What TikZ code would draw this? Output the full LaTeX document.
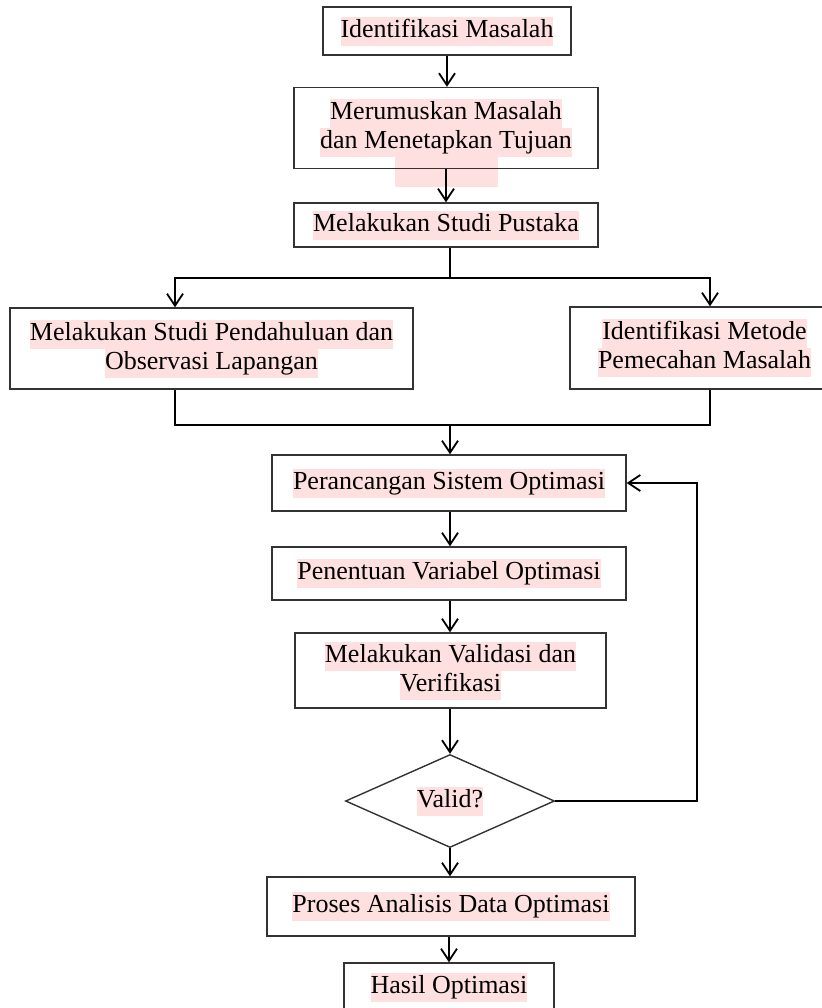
\documentclass[tikz,border=0pt]{standalone}
\usepackage{fontspec}
\setmainfont{Liberation Serif}
\usetikzlibrary{positioning, arrows.meta, shapes.geometric}
\definecolor{hlpink}{RGB}{255,224,224}
\newcommand{\hl}[1]{{\setlength{\fboxsep}{0pt}\colorbox{hlpink}{\rule[-4.25pt]{0pt}{14.5pt}#1}}}
\newcommand{\boxfont}{\fontsize{13}{14.5}\selectfont\setlength{\lineskiplimit}{0pt}\setlength{\lineskip}{0pt}}

\begin{document}
\begin{tikzpicture}[x=0.5pt, y=-0.5pt, line width=0.7pt,
  box/.style={draw=black!80, inner sep=0pt, align=center, font=\boxfont},
  dec/.style={box, diamond, aspect=2.2},
  arr/.style={draw=black, line width=0.9pt, -{Straight Barb[length=6pt,width=8pt]}}]
  \useasboundingbox (0,0) rectangle (822,1008);
  \clip (0,0) rectangle (822,1008);

  \fill[hlpink] (395,157) rectangle (498,187);

  \node[box, minimum width=124pt, minimum height=24pt] (idm) at (447,31) {\hl{Identifikasi Masalah}};
  \node[box, minimum width=152pt, minimum height=40.5pt] (rum) at (446,128) {\hl{Merumuskan Masalah}\\\hl{dan Menetapkan Tujuan}};
  \node[box, minimum width=152pt, minimum height=22pt] (pus) at (446,225) {\hl{Melakukan Studi Pustaka}};
  \node[box, minimum width=201.5pt, minimum height=40.5pt] (pen) at (211.5,348.5) {\hl{Melakukan Studi Pendahuluan dan}\\\hl{Observasi Lapangan}};
  \node[box, minimum width=134.5pt, minimum height=41pt] (met) at (704.5,348) {\hl{Identifikasi Metode}\\\hl{Pemecahan Masalah}};
  \node[box, minimum width=177pt, minimum height=28pt] (per) at (449,483) {\hl{Perancangan Sistem Optimasi}};
  \node[box, minimum width=177pt, minimum height=26.5pt] (var) at (449,573.5) {\hl{Penentuan Variabel Optimasi}};
  \node[box, minimum width=155.5pt, minimum height=37.5pt] (val) at (450.5,670.5) {\hl{Melakukan Validasi dan}\\\hl{Verifikasi}};
  \node[dec, minimum width=104.5pt, minimum height=46.5pt] (valid) at (450,801) {\hl{Valid?}};
  \node[box, minimum width=184pt, minimum height=29.5pt] (pro) at (451,906.5) {\hl{Proses Analisis Data Optimasi}};
  \node[box, minimum width=105pt, minimum height=24pt] (has) at (449,987) {\hl{Hasil Optimasi}};

  \coordinate (split) at (450,278);
  \coordinate (lft) at (175,278);
  \coordinate (rgt) at (710,278);
  \coordinate (mlft) at (175,425);
  \coordinate (mrgt) at (710,425);
  \coordinate (merge) at (450,425);
  \coordinate (back) at (697,483);

  \draw[arr] (idm.south) -- (idm.south |- rum.north);
  \draw[arr] (rum.south) -- (rum.south |- pus.north);
  \draw[arr, -] (split |- pus.south) -- (split);
  \draw[arr] (split) -- (lft) -- (lft |- pen.north);
  \draw[arr] (split) -- (rgt) -- (rgt |- met.north);
  \draw[arr, -] (lft |- pen.south) -- (mlft) -- (mrgt) -- (rgt |- met.south);
  \draw[arr] (merge) -- (merge |- per.north);
  \draw[arr] (merge |- per.south) -- (merge |- var.north);
  \draw[arr] (merge |- var.south) -- (merge |- val.north);
  \draw[arr] (merge |- val.south) -- (valid.north);
  \draw[arr] (valid.south) -- (merge |- pro.north);
  \draw[arr] (has.north |- pro.south) -- (has.north);
  \draw[arr] (valid.east) -| (back) -- (per.east);
\end{tikzpicture}
\end{document}
